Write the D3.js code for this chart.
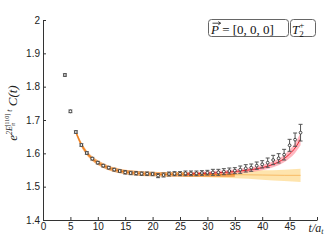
<!DOCTYPE html>
<html><head><meta charset="utf-8">
<script src="https://cdn.jsdelivr.net/npm/d3@7"></script>
<style>body{margin:0;background:#fff}svg{display:block}</style>
</head><body>
<svg id="c" width="332" height="251"></svg>
<script>
// data points
const tVals = [4,5,6,7,8,9,10,11,12,13,14,15,16,17,18,19,20,21,22,23,24,25,26,27,28,29,30,31,32,33,34,35,36,37,38,39,40,41,42,43,44,45,46,47];
const cVals = [1.835,1.726,1.664,1.625,1.601,1.584,1.572,1.563,1.557,1.551,1.547,1.543,1.541,1.540,1.539,1.539,1.538,1.533,1.535,1.538,1.539,1.539,1.540,1.540,1.540,1.541,1.542,1.543,1.543,1.545,1.547,1.548,1.551,1.555,1.557,1.563,1.567,1.572,1.580,1.585,1.596,1.624,1.641,1.662];
const errVals = [0.004,0.004,0.004,0.004,0.004,0.004,0.004,0.004,0.004,0.004,0.004,0.005,0.005,0.005,0.005,0.005,0.005,0.006,0.006,0.006,0.006,0.006,0.007,0.007,0.007,0.007,0.007,0.009,0.009,0.009,0.009,0.009,0.011,0.011,0.011,0.011,0.011,0.014,0.014,0.014,0.016,0.018,0.020,0.025];
// main fit (orange)
const fitT = [6,7,8,9,10,11,12,13,14,16,18,20,22,25,28,31,35];
const fitC = [1.664,1.626,1.601,1.584,1.572,1.563,1.556,1.551,1.547,1.542,1.539,1.538,1.537,1.537,1.536,1.536,1.536];
const fitErr = [0.007,0.007,0.007,0.007,0.007,0.007,0.007,0.007,0.007,0.007,0.007,0.007,0.007,0.007,0.007,0.007,0.007];
// extrapolation of main fit (yellow)
const extT = [25,30,35,40,44,47];
const extC = [1.537,1.536,1.536,1.535,1.534,1.534];
const extErr = [0.006,0.008,0.011,0.014,0.017,0.020];
// second fit (red)
const redT = [26,28,31,34,37,40,42,44,45,46,47];
const redC = [1.538,1.539,1.541,1.544,1.549,1.557,1.567,1.584,1.598,1.616,1.643];
const redErr = [0.005,0.005,0.006,0.006,0.007,0.008,0.009,0.011,0.013,0.015,0.019];
// ticks
const xTicks = [0,5,10,15,20,25,30,35,40,45,50];
const yTicks = [1.4,1.5,1.6,1.7,1.8,1.9,2];

const svg = d3.select("#c");
const x = d3.scaleLinear().domain([0,50]).range([43,317]);
const y = d3.scaleLinear().domain([1.4,2]).range([220,20]);

function band(T,C,E,color,op){
  const d = T.map((t,i)=>({t,c:C[i],e:E[i]}));
  svg.append("path").datum(d)
    .attr("d", d3.area().x(p=>x(p.t)).y0(p=>y(p.c-p.e)).y1(p=>y(p.c+p.e)).curve(d3.curveMonotoneX))
    .attr("fill",color).attr("opacity",op).attr("stroke","none");
}
function line(T,C,color,w){
  const d = T.map((t,i)=>({t,c:C[i]}));
  svg.append("path").datum(d)
    .attr("d", d3.line().x(p=>x(p.t)).y(p=>y(p.c)).curve(d3.curveMonotoneX))
    .attr("fill","none").attr("stroke",color).attr("stroke-width",w);
}
band(extT,extC,extErr,"#fdd88a",0.7);
band(fitT,fitC,fitErr,"#f6a255",0.85);
band(redT,redC,redErr,"#ff8595",0.6);
line(extT,extC,"#f8bb66",1);
line(fitT,fitC,"#f08222",1.3);
line(redT,redC,"#e5202c",1);

// data with error bars
const pts = tVals.map((t,i)=>({t,c:cVals[i],e:errVals[i]}));
const g = svg.append("g").attr("stroke","#555").attr("stroke-width",1);
const pg = g.selectAll("g").data(pts).join("g");
pg.append("line").attr("x1",d=>x(d.t)).attr("x2",d=>x(d.t)).attr("y1",d=>y(d.c-d.e)).attr("y2",d=>y(d.c+d.e));
pg.append("line").attr("x1",d=>x(d.t)-2).attr("x2",d=>x(d.t)+2).attr("y1",d=>y(d.c-d.e)).attr("y2",d=>y(d.c-d.e));
pg.append("line").attr("x1",d=>x(d.t)-2).attr("x2",d=>x(d.t)+2).attr("y1",d=>y(d.c+d.e)).attr("y2",d=>y(d.c+d.e));
pg.append("circle").attr("cx",d=>x(d.t)).attr("cy",d=>y(d.c)).attr("r",1.4).attr("fill","#fff").attr("stroke","#333").attr("stroke-width",0.9);

// axes
const xAxis = d3.axisBottom(x).tickValues(xTicks).tickSizeInner(-3).tickSizeOuter(0).tickPadding(3)
  .tickFormat(d=>d===50?"":d3.format("d")(d));
const yAxis = d3.axisLeft(y).tickValues(yTicks).tickSizeInner(-3).tickSizeOuter(0).tickPadding(3)
  .tickFormat(d=>d===2?"2":d3.format(".1f")(d));
const gx = svg.append("g").attr("transform","translate(0,220)").call(xAxis);
const gy = svg.append("g").attr("transform","translate(43,0)").call(yAxis);
[gx,gy].forEach(a=>{
  a.selectAll("path,line").attr("stroke","#333");
  a.selectAll("text").attr("font-family","'Liberation Sans',Arial,sans-serif").attr("font-size",10).attr("fill","#222");
});

// x label
const xl = svg.append("text").attr("x",x(50)-1).attr("y",232).attr("text-anchor","middle")
  .attr("font-family","'Liberation Serif','DejaVu Serif',serif").attr("font-style","italic").attr("font-size",12).attr("fill","#222");
xl.append("tspan").text("t/a");
xl.append("tspan").attr("font-size",8).attr("dy",2).text("t");

// y label
const yl = svg.append("text").attr("transform","translate(17,113) rotate(-90)").attr("text-anchor","middle")
  .attr("font-family","'Liberation Serif','DejaVu Serif',serif").attr("font-style","italic").attr("font-size",13).attr("fill","#222");
yl.append("tspan").text("e");
yl.append("tspan").attr("font-size",8).attr("dy",-5).text("2E");
yl.append("tspan").attr("font-size",6).attr("dy",2.5).text("π");
yl.append("tspan").attr("font-size",6).attr("font-style","normal").attr("dx",-3.5).attr("dy",-5.5).text("[110]");
yl.append("tspan").attr("font-size",8).attr("dy",3).text(" t");
yl.append("tspan").attr("dy",5).text(" C(t)");

// legend boxes
svg.append("rect").attr("x",208.5).attr("y",19.5).attr("width",80).attr("height",17).attr("rx",3)
  .attr("fill","#fff").attr("stroke","#666").attr("stroke-width",1);
svg.append("rect").attr("x",290.5).attr("y",19.5).attr("width",25).attr("height",17).attr("rx",3)
  .attr("fill","#fff").attr("stroke","#666").attr("stroke-width",1);
const lt = svg.append("text").attr("x",211).attr("y",33.5).attr("font-family","'Liberation Serif','DejaVu Serif',serif").attr("font-size",13).attr("fill","#111");
lt.append("tspan").attr("font-style","italic").text("P");
lt.append("tspan").text(" = [0, 0, 0]");
// vector arrow over P
svg.append("path").attr("d","M212.5,23.2H220.5M218.3,21.6L220.6,23.2L218.3,24.8")
  .attr("fill","none").attr("stroke","#111").attr("stroke-width",0.8);
const lt2 = svg.append("text").attr("x",292).attr("y",33.5).attr("font-family","'Liberation Serif','DejaVu Serif',serif").attr("font-size",13).attr("fill","#111");
lt2.append("tspan").attr("font-style","italic").text("T");
lt2.append("tspan").attr("font-size",9).attr("dy",-6).text("+");
lt2.append("tspan").attr("font-size",9).attr("dx",-5).attr("dy",9).text("2");
</script>
</body></html>
